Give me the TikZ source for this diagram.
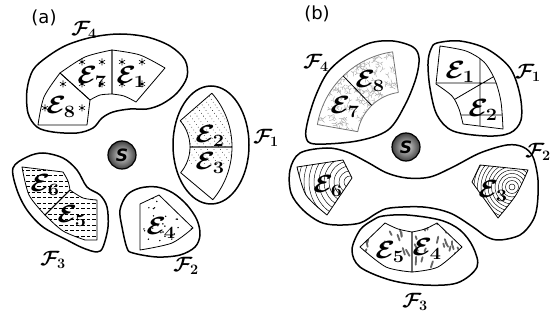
\documentclass[tikz,border=0pt]{standalone}
\usepackage{fontspec}
\setsansfont{DejaVu Sans}
\usepackage{graphicx}
\usetikzlibrary{calc}

% annular sector: centre, start angle, end angle, inner radius, outer radius
\newcommand\annsec[5]{($(#1)+(#2:#4)$) -- ($(#1)+(#2:#5)$)
  arc[start angle=#2, end angle=#3, radius=#5]
  -- ($(#1)+(#3:#4)$) arc[start angle=#3, end angle=#2, radius=#4] -- cycle}

\newcommand\elab[1]{\scalebox{1.15}[1]{$\mathcal{E}_{#1}$}}
\newcommand\flab[1]{$\mathcal{F}_{#1}$}

\tikzset{
  region/.style={line width=1.5pt, line join=round},
  cell/.style={line width=0.8pt, line join=round},
  elabel/.style={inner sep=0pt, font=\fontsize{23}{23}\selectfont\boldmath},
  flabel/.style={inner sep=0pt, font=\fontsize{21}{21}\selectfont\boldmath},
  panel/.style={inner sep=0pt, font=\sffamily\fontsize{18}{18}\selectfont},
  source/.style={circle, minimum size=28pt, inner sep=0pt, draw=black,
    line width=1.2pt, inner color=gray!25, outer color=black!75,
    font=\sffamily\bfseries\itshape\fontsize{17}{17}\selectfont},
  dotrow/.style={line width=0.8pt, line cap=round, dash pattern=on 0pt off 3.4pt},
  dashrow/.style={line width=0.6pt, dash pattern=on 3.5pt off 2pt},
  ring/.style={line width=0.45pt},
  twig/.style={gray!65, line width=0.45pt, line cap=round},
  blot/.style={black!60, line width=1.8pt, line cap=round},
  astmark/.pic={\draw[line width=0.6pt] (0,-3.5) -- (0,3.5) (-3,-1.75) -- (3,1.75) (-3,1.75) -- (3,-1.75);}
}

\begin{document}
\begin{tikzpicture}[x=1pt, y=-1pt]
\useasboundingbox (0,0) rectangle (559,320);
\fill[white] (0,0) rectangle (559,320);

% ================= panel (a) =================
\node[panel] (pa) at (44,18) {(a)};
\node[source] (Sa) at (122,155) {S};

% ---- F4: E7, E1, E8 with asterisks ----
\def\cellEsevenA{(60,73) -- plot[smooth] coordinates {(60,73) (85,57) (112,50)} -- (112,94) -- plot[smooth] coordinates {(112,94) (100,95) (90,100)} -- cycle}
\def\cellEoneA{(112,50) -- plot[smooth] coordinates {(112,50) (140,55) (165,68)} -- (136,102) -- plot[smooth] coordinates {(136,102) (124,96) (112,94)} -- cycle}
\def\cellEeightA{(60,73) -- (90,100) -- (87,125) -- (38,125) -- plot[smooth] coordinates {(38,125) (44,97) (60,73)} -- cycle}
\draw[cell] \cellEsevenA;
\draw[cell] \cellEoneA;
\draw[cell] \cellEeightA;
\foreach \p in {(82,62),(102,62),(122,62),(142,62),(63,84),(82,84),(102,84),(122,84),(142,84),(45,108),(82,108)}
  \pic at \p {astmark};
\draw[region] plot[smooth cycle, tension=0.55] coordinates {(185,60) (170,46) (147,37) (120,34) (93,37) (67,45) (47,57) (33,70) (27,90) (28,113) (37,127) (53,132) (77,133) (93,128) (102,118) (113,112) (130,109) (147,109) (162,104) (177,93) (187,77)};
\node[elabel] (e7a) at (92,77) {\elab{7}};
\node[elabel] (e1a) at (131,77) {\elab{1}};
\node[elabel] (e8a) at (61,107) {\elab{8}};
\node[flabel] (f4a) at (84,30) {\flab{4}};

% ---- F1: E2, E3 with dotted hatching ----
\coordinate (Ca1) at (150,147);
\begin{scope}
  \clip \annsec{Ca1}{-41}{40}{40}{82};
  \foreach \k in {0,...,20}
    \draw[dotrow] ({100+\k*6.5},80) -- ++(60,85);
\end{scope}
\draw[cell] \annsec{Ca1}{0}{-41}{40}{82};
\draw[cell] \annsec{Ca1}{0}{40}{40}{82};
\draw[region] (211,145) ellipse[x radius=38, y radius=59];
\node[elabel] (e2a) at (210,136) {\elab{2}};
\node[elabel] (e3a) at (210,163) {\elab{3}};
\node[flabel] (f1a) at (266,138) {\flab{1}};

% ---- F3: E6, E5 with dashed rows ----
\def\cellEsixA{(22,167) -- (63,172) -- plot[smooth] coordinates {(63,172) (68,181) (70,190)} -- (45,215) -- plot[smooth] coordinates {(45,215) (29,195) (22,167)} -- cycle}
\def\cellEfiveA{(70,190) -- plot[smooth] coordinates {(70,190) (83,198) (97,200)} -- (97,240) -- (85,240) -- plot[smooth] coordinates {(85,240) (63,231) (45,215)} -- cycle}
\begin{scope}
  \clip \cellEsixA;
  \foreach \yy in {170,175.5,...,240} \draw[dashrow] (15,\yy) -- (105,\yy);
\end{scope}
\begin{scope}
  \clip \cellEfiveA;
  \foreach \yy in {170,175.5,...,242} \draw[dashrow] (15,\yy) -- (105,\yy);
\end{scope}
\draw[cell] \cellEsixA;
\draw[cell] \cellEfiveA;
\draw[region] plot[smooth cycle, tension=0.55] coordinates {(13,168) (27,157) (43,153) (63,158) (77,170) (87,187) (100,195) (107,207) (108,227) (103,247) (97,252) (83,248) (67,240) (43,227) (27,210) (17,190)};
\node[elabel] (e6a) at (45,185) {\elab{6}};
\node[elabel] (e5a) at (72,216) {\elab{5}};
\node[flabel] (f3a) at (53,260) {\flab{3}};

% ---- F2: E4 with scattered dots ----
\def\cellEfourA{(140,204) -- (159,195) -- (193,228) -- plot[smooth] coordinates {(193,228) (172,243) (140,250)} -- cycle}
\begin{scope}
  \clip \cellEfourA;
  \pgfmathsetseed{5}
  \foreach \i in {1,...,40}
    \fill ({140+53*rnd},{195+55*rnd}) circle[radius=0.8];
\end{scope}
\draw[cell] \cellEfourA;
\draw[region] plot[smooth cycle, tension=0.55] coordinates {(127,195) (140,188) (157,187) (173,193) (187,205) (197,220) (200,235) (195,247) (180,255) (157,257) (133,253) (127,248) (122,227) (120,210)};
\node[elabel] (e4a) at (161,228) {\elab{4}};
\node[flabel] (f2a) at (186,266) {\flab{2}};

% ================= panel (b) =================
\node[panel] (pb) at (317,14) {(b)};
\node[source] (Sb) at (406,147) {S};

% ---- F4: E8, E7 with branching texture ----
\coordinate (Cb4) at (405,140);
\begin{scope}
  \clip \annsec{Cb4}{-98}{-170}{48}{89};
  \pgfmathsetseed{11}
  \foreach \i in {1,...,260}{
    \pgfmathsetmacro\tx{312+88*rnd}
    \pgfmathsetmacro\ty{48+85*rnd}
    \pgfmathsetmacro\ta{360*rnd}
    \pgfmathsetmacro\tb{\ta+40}
    \pgfmathsetmacro\tc{\ta-40}
    \draw[twig] (\tx,\ty) -- ++(\ta:3.5) coordinate (tw) -- ++(\tb:2.5) (tw) -- ++(\tc:2.5);
  }
\end{scope}
\draw[cell, draw=black!55] \annsec{Cb4}{-98}{-170}{48}{89};
\draw[cell] ($(Cb4)+(-134:48)$) -- ($(Cb4)+(-134:89)$);
\draw[region] plot[smooth cycle, tension=0.55] coordinates {(413,47) (393,41) (370,43) (347,55) (328,72) (316,95) (308,120) (306,137) (315,144) (357,141) (388,130) (405,105) (416,78) (419,58)};
\node[elabel] (e8b) at (370,81) {\elab{8}};
\node[elabel] (e7b) at (345,107) {\elab{7}};
\node[flabel] (f4b) at (316,63) {\flab{4}};

% ---- F1: E1, E2 on a grid ----
\def\grpFoneB{(440,46) -- plot[smooth] coordinates {(440,46) (466,51) (484,62) (495,80) (501,102) (503,129)} -- (463,124) -- plot[smooth] coordinates {(463,124) (459,109) (452,96) (436,84)} -- cycle}
\begin{scope}
  \clip \grpFoneB;
  \draw[cell] (425,83) -- (515,83) (445,115) -- (515,115) (480,40) -- (480,140) (445,105) -- (505,70);
\end{scope}
\draw[cell] \grpFoneB;
\draw[region] plot[smooth cycle, tension=0.55] coordinates {(437,43) (460,41) (487,49) (510,68) (520,95) (521,120) (510,133) (487,136) (453,131) (437,115) (430,88) (428,63) (431,49)};
\node[elabel] (e1b) at (460,72) {\elab{1}};
\node[elabel] (e2b) at (483,110) {\elab{2}};
\node[flabel] (f1b) at (528,73) {\flab{1}};

% ---- F2: E6, E3 with ring texture ----
\def\cellEsixB{(297,167) -- (343,160) -- (352,178) -- (327,215) -- plot[smooth] coordinates {(327,215) (306,195) (297,167)} -- cycle}
\def\cellEthreeB{(480,165) -- (528,170) -- plot[smooth] coordinates {(528,170) (516,195) (498,218)} -- (472,182) -- cycle}
\begin{scope}
  \clip \cellEsixB;
  \foreach \r in {6,11,...,66} \draw[ring] (350,182) circle[radius=\r];
\end{scope}
\begin{scope}
  \clip \cellEthreeB;
  \foreach \r in {3,6.5,...,48} \draw[ring] (512,187) circle[radius=\r];
\end{scope}
\draw[cell] \cellEsixB;
\draw[cell] \cellEthreeB;
\draw[region] plot[smooth cycle, tension=0.55] coordinates {(300,153) (327,148) (347,152) (367,162) (387,173) (407,178) (430,177) (453,167) (480,153) (507,145) (523,147) (533,157) (538,180) (537,207) (532,222) (520,235) (500,240) (487,237) (473,227) (450,213) (423,207) (390,208) (377,213) (360,223) (337,225) (320,222) (303,210) (291,193) (290,170)};
\node[elabel] (e6b) at (328,186) {\elab{6}};
\node[elabel] (e3b) at (493,191) {\elab{3}};
\node[flabel] (f2b) at (538,152) {\flab{2}};

% ---- F3: E5, E4 with blotches ----
\def\cellEfiveB{(385,223) -- plot[smooth] coordinates {(385,223) (398,229) (412,232)} -- (412,272) -- plot[smooth] coordinates {(412,272) (386,267) (360,247)} -- cycle}
\def\cellEfourB{(412,232) -- plot[smooth] coordinates {(412,232) (425,229) (437,223)} -- (462,247) -- plot[smooth] coordinates {(462,247) (438,267) (412,272)} -- cycle}
\begin{scope}
  \clip (385,223) -- plot[smooth] coordinates {(385,223) (412,232) (437,223)} -- (462,247) -- plot[smooth] coordinates {(462,247) (438,267) (412,272) (386,267) (360,247)} -- cycle;
  \pgfmathsetseed{23}
  \foreach \i in {1,...,60}{
    \pgfmathsetmacro\bx{355+110*rnd}
    \pgfmathsetmacro\by{220+55*rnd}
    \pgfmathsetmacro\ba{60+60*rnd}
    \pgfmathsetmacro\bl{2+6*rnd}
    \draw[blot] (\bx,\by) -- ++(\ba:\bl);
  }
\end{scope}
\draw[cell] \cellEfiveB;
\draw[cell] \cellEfourB;
\draw[region] plot[smooth cycle, tension=0.55] coordinates {(373,220) (360,230) (352,250) (360,267) (390,280) (423,285) (457,283) (477,267) (473,247) (460,230) (440,220) (407,215) (383,216)};
\node[elabel] (e5b) at (390,252) {\elab{5}};
\node[elabel] (e4b) at (427,249) {\elab{4}};
\node[flabel] (f3b) at (415,302) {\flab{3}};
\end{tikzpicture}
\end{document}
